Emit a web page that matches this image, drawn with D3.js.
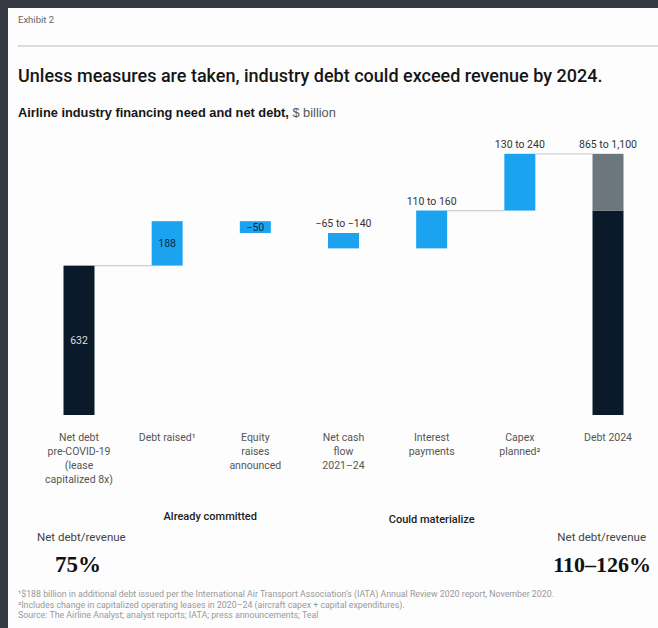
<!DOCTYPE html>
<html>
<head>
<meta charset="utf-8">
<script src="https://cdn.jsdelivr.net/npm/d3@7"></script>
<style>
  html, body { margin: 0; padding: 0; background: #373a43; }
  svg { display: block; }
</style>
</head>
<body>
<svg id="chart" width="658" height="628"></svg>
<script>
// Waterfall: airline industry financing need and net debt, $ billion
const categories = [
  ["Net debt", "pre-COVID-19", "(lease", "capitalized 8x)"],
  ["Debt raised¹"],
  ["Equity", "raises", "announced"],
  ["Net cash", "flow", "2021–24"],
  ["Interest", "payments"],
  ["Capex", "planned²"],
  ["Debt 2024"]
];
// step values; first is the starting total, last column is the resulting total
const steps = [632, 188, -50, -65, 160, 240];
const valueLabels = ["632", "188", "−50", "−65 to −140", "110 to 160", "130 to 240", "865 to 1,100"];
const labelInside = [true, true, true, false, false, false, false];
const connectors = [[0, 1], [4, 5], [5, 6]];
const groupLabels = [
  { text: "Already committed", from: 1, to: 2 },
  { text: "Could materialize", from: 3, to: 5 }
];
const ratioLeft = "75%";
const ratioRight = "110–126%";
const footnotes = [
  "¹$188 billion in additional debt issued per the International Air Transport Association’s (IATA) Annual Review 2020 report, November 2020.",
  "²Includes change in capitalized operating leases in 2020–24 (aircraft capex + capital expenditures).",
  "Source: The Airline Analyst; analyst reports; IATA; press announcements; Teal"
];

const colors = { dark: "#0a1a2a", blue: "#1ba3ef", gray: "#6b777d", conn: "#cfcfcf" };
const font = "Roboto, Liberation Sans, Arial, sans-serif";

const svg = d3.select("#chart");
svg.append("rect").attr("x", 8).attr("y", 8).attr("width", 650).attr("height", 620).attr("fill", "#fdfdfd");

svg.append("text").attr("x", 18).attr("y", 23).attr("font-family", font)
  .attr("font-size", 9.5).attr("fill", "#666").text("Exhibit 2");
svg.append("line").attr("x1", 18).attr("x2", 658).attr("y1", 46).attr("y2", 46)
  .attr("stroke", "#cfcfcf").attr("stroke-width", 1.5);
svg.append("text").attr("x", 18).attr("y", 82).attr("font-family", font)
  .attr("font-size", 18).attr("font-weight", 500).attr("fill", "#161616")
  .text("Unless measures are taken, industry debt could exceed revenue by 2024.");
const sub = svg.append("text").attr("x", 18).attr("y", 117)
  .attr("font-family", "Liberation Sans, Arial, sans-serif").attr("font-size", 12.8).attr("fill", "#161616");
sub.append("tspan").attr("font-weight", 700).text("Airline industry financing need and net debt,");
sub.append("tspan").attr("fill", "#555").text(" $ billion");

// scales
const x = d3.scalePoint().domain(d3.range(categories.length)).range([79, 608]);
const y = d3.scaleLinear().domain([0, 1100]).range([415, 155]);
const bw = 31;

// build waterfall segments from the step values
let cum = 0;
const bars = [];
steps.forEach((v, i) => {
  if (i === 0) { bars.push({ i, y0: 0, y1: v, fill: colors.dark }); cum = v; }
  else { bars.push({ i, y0: cum, y1: cum + v, fill: colors.blue }); cum += v; }
});
const beforeCapex = cum - steps[steps.length - 1];
const last = categories.length - 1;
bars.push({ i: last, y0: 0, y1: beforeCapex, fill: colors.dark });
bars.push({ i: last, y0: beforeCapex, y1: cum, fill: colors.gray });

const topOf = i => d3.max(bars.filter(b => b.i === i), b => Math.max(b.y0, b.y1));
const endOf = i => { const b = bars.filter(d => d.i === i); return b[b.length - 1].y1; };

// connector lines
svg.append("g").selectAll("line").data(connectors).join("line")
  .attr("x1", d => x(d[0]) + bw / 2).attr("x2", d => x(d[1]) - bw / 2)
  .attr("y1", d => y(endOf(d[0]))).attr("y2", d => y(endOf(d[0])))
  .attr("stroke", colors.conn).attr("stroke-width", 1.2);

svg.append("g").selectAll("rect").data(bars).join("rect")
  .attr("x", d => x(d.i) - bw / 2).attr("width", bw)
  .attr("y", d => y(Math.max(d.y0, d.y1)))
  .attr("height", d => Math.abs(y(d.y0) - y(d.y1)))
  .attr("fill", d => d.fill);

// value labels
valueLabels.forEach((t, i) => {
  const b = bars.find(d => d.i === i);
  if (labelInside[i]) {
    const cy = (y(b.y0) + y(b.y1)) / 2;
    svg.append("text").attr("x", x(i)).attr("y", cy + 4).attr("text-anchor", "middle")
      .attr("font-family", font).attr("font-size", 10.5)
      .attr("fill", i === 0 ? "#d8dde2" : "#0b2a48").text(t);
  } else {
    svg.append("text").attr("x", x(i)).attr("y", y(topOf(i)) - 6).attr("text-anchor", "middle")
      .attr("font-family", font).attr("font-size", 10.5).attr("fill", "#333").text(t);
  }
});

// category labels
categories.forEach((lines, i) => {
  const t = svg.append("text").attr("text-anchor", "middle").attr("font-family", font)
    .attr("font-size", 10.5).attr("fill", "#555");
  lines.forEach((l, k) => t.append("tspan").attr("x", x(i)).attr("y", 441 + k * 14).text(l));
});

// group labels
groupLabels.forEach((g, k) => {
  svg.append("text").attr("x", (x(g.from) + x(g.to)) / 2 + (k === 0 ? -1 : 0)).attr("y", k === 0 ? 520 : 523)
    .attr("text-anchor", "middle").attr("font-family", font).attr("font-size", 11)
    .attr("font-weight", 500).attr("fill", "#222").text(g.text);
});

// net debt / revenue ratios
svg.append("text").attr("x", 37).attr("y", 541).attr("font-family", font).attr("font-size", 11.5)
  .attr("fill", "#444").text("Net debt/revenue");
svg.append("text").attr("x", 55).attr("y", 572).attr("font-family", "Liberation Serif, DejaVu Serif, serif")
  .attr("font-size", 23).attr("font-weight", 700).attr("fill", "#111").text(ratioLeft);
svg.append("text").attr("x", 646).attr("y", 541).attr("text-anchor", "end").attr("font-family", font)
  .attr("font-size", 11.5).attr("fill", "#444").text("Net debt/revenue");
svg.append("text").attr("x", 651).attr("y", 572).attr("text-anchor", "end")
  .attr("font-family", "Liberation Serif, DejaVu Serif, serif")
  .attr("font-size", 22).attr("font-weight", 700).attr("fill", "#111").text(ratioRight);

// footnotes
footnotes.forEach((f, k) => {
  svg.append("text").attr("x", 18).attr("y", 597 + k * 10.5).attr("font-family", font)
    .attr("font-size", 8.8).attr("fill", "#999").text(f);
});
</script>
</body>
</html>
